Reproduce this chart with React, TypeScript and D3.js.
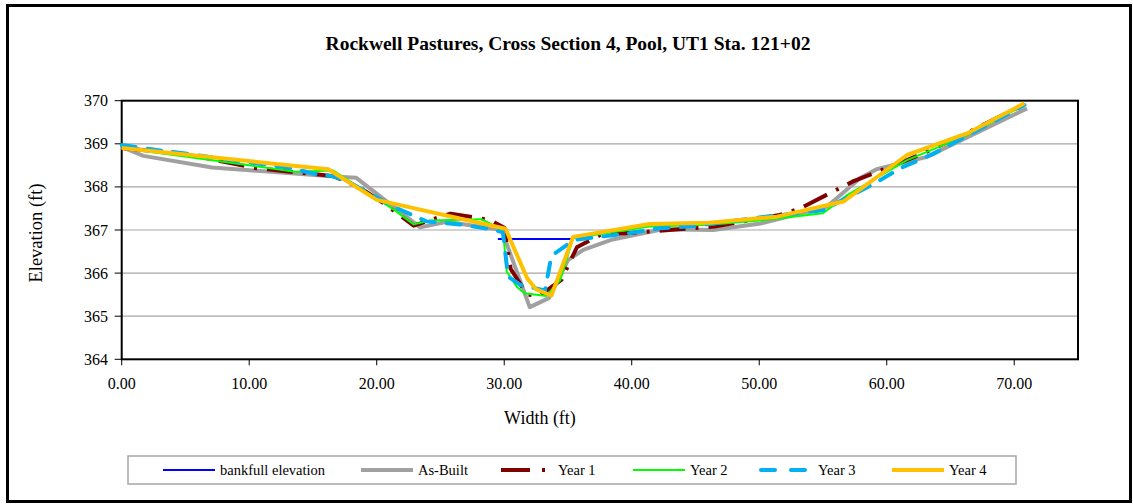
import React from "react";
import * as d3 from "d3";

type P = [number, number];

const title = "Rockwell Pastures, Cross Section 4, Pool, UT1 Sta. 121+02";
const xLabel = "Width (ft)";
const yLabel = "Elevation (ft)";
const xTicks = [0, 10, 20, 30, 40, 50, 60, 70];
const yTicks = [364, 365, 366, 367, 368, 369, 370];

const bankfull: P[] = [[29.5, 366.79], [35.4, 366.79]];

const asBuilt: P[] = [
  [0, 368.93], [1.7, 368.72], [7.1, 368.45], [16.2, 368.25], [18.4, 368.21],
  [23.4, 367.06], [25.5, 367.19], [29.8, 367.0], [32.0, 365.21], [33.5, 365.42],
  [35.0, 366.3], [36.2, 366.54], [38.5, 366.78], [42.5, 367.02], [46.4, 367.0],
  [50.1, 367.15], [55.3, 367.54], [57.9, 368.2], [59.2, 368.41], [62.1, 368.62],
  [63.1, 368.69], [71.0, 369.82],
];

const year1: P[] = [
  [0, 368.9], [4.4, 368.78], [6.4, 368.68], [10.4, 368.44], [16.6, 368.25],
  [18.7, 367.98], [20.5, 367.63], [22.9, 367.1], [24.4, 367.25], [25.8, 367.38],
  [28.9, 367.23], [30.0, 367.05], [30.5, 366.1], [31.8, 365.5], [32.8, 365.48],
  [34.5, 365.85], [35.7, 366.6], [37.5, 366.88], [46.5, 367.08], [51.6, 367.35],
  [53.2, 367.5], [57.3, 368.12], [61.4, 368.6], [63.0, 368.8], [66.3, 369.25],
  [70.8, 369.92],
];

const year2: P[] = [
  [0, 368.9], [10, 368.5], [13.6, 368.35], [16.6, 368.38], [21.4, 367.46],
  [22.9, 367.13], [24.2, 367.22], [28.2, 367.25], [29.9, 367.0], [30.2, 366.03],
  [31.0, 365.68], [31.6, 365.53], [33.3, 365.47], [34.4, 365.84], [35.4, 366.81],
  [41.4, 367.08], [46.1, 367.12], [50.0, 367.22], [55.0, 367.39], [56.9, 367.81],
  [61.6, 368.62], [66.3, 369.2], [70.8, 369.9],
];

const year3: P[] = [
  [0, 368.97], [2.6, 368.86], [5.4, 368.76], [7.9, 368.65], [10.2, 368.56],
  [13.0, 368.45], [15.2, 368.3], [16.5, 368.25], [17.5, 368.16], [21.4, 367.53],
  [23.9, 367.2], [26.5, 367.13], [28.7, 367.03], [29.9, 366.95], [30.3, 365.92],
  [31.3, 365.72], [33.2, 365.6], [33.7, 366.4], [35.5, 366.77], [39.9, 366.93],
  [42.2, 367.04], [44.8, 367.09], [50.3, 367.3], [55.0, 367.46], [59.1, 368.09],
  [61.1, 368.44], [63.6, 368.76], [70.8, 369.9],
];

const year4: P[] = [
  [0, 368.9], [16.2, 368.41], [20.0, 367.7], [30.1, 367.03], [31.8, 365.88],
  [32.5, 365.62], [33.7, 365.48], [35.4, 366.84], [41.4, 367.14], [46.1, 367.17],
  [51.4, 367.31], [56.6, 367.66], [61.6, 368.74], [66.3, 369.24], [70.8, 369.94],
];

const seriesNames = ["bankfull elevation", "As-Built", "Year 1", "Year 2", "Year 3", "Year 4"];

const styles = [
  { data: bankfull, color: "#0000FF", width: 2, dash: "" },
  { data: asBuilt, color: "#A0A0A0", width: 4, dash: "" },
  { data: year1, color: "#800000", width: 4, dash: "26,10,3,10" },
  { data: year2, color: "#00FF00", width: 2, dash: "" },
  { data: year3, color: "#00B0F0", width: 4, dash: "14,12" },
  { data: year4, color: "#FFC000", width: 4, dash: "" },
];

const legendX = [163, 361, 501, 633, 761, 892];

export default function App() {
  const W = 1133, H = 504;
  const left = 121.7, right = 1078, top = 100.7, bottom = 359.3;
  const x = d3.scaleLinear().domain([0, 75]).range([left, right]);
  const y = d3.scaleLinear().domain([364, 370]).range([bottom, top]);
  const line = d3.line<P>().x((d) => x(d[0])).y((d) => y(d[1]));
  const font = "'Liberation Serif', 'Times New Roman', serif";

  return (
    <svg width={W} height={H} style={{ position: "absolute", left: 0, top: 0, background: "#fff" }} fontFamily={font}>
      <rect x={0} y={0} width={W} height={H} fill="#fff" />
      <rect x={7.5} y={5.5} width={1123} height={496} fill="none" stroke="#000" strokeWidth={3} />
      <text x={568} y={50} textAnchor="middle" fontWeight="bold" fontSize={19.5}>{title}</text>

      {yTicks.map((t) => (
        <g key={"y" + t}>
          {t > 364 && t < 370 && (
            <line x1={left} x2={right} y1={y(t)} y2={y(t)} stroke="#A6A6A6" strokeWidth={1.2} />
          )}
          <line x1={left - 7} x2={left} y1={y(t)} y2={y(t)} stroke="#000" strokeWidth={1} />
          <text x={108} y={y(t) + 5.5} textAnchor="end" fontSize={16}>{t}</text>
        </g>
      ))}
      {xTicks.map((t) => (
        <g key={"x" + t}>
          <line x1={x(t)} x2={x(t)} y1={bottom} y2={bottom + 6} stroke="#000" strokeWidth={1} />
          <text x={x(t)} y={389} textAnchor="middle" fontSize={16}>{t.toFixed(2)}</text>
        </g>
      ))}
      <rect x={left} y={top} width={right - left} height={bottom - top} fill="none" stroke="#000" strokeWidth={2} />

      {styles.map((s, i) => (
        <path key={"s" + i} d={line(s.data) || ""} fill="none" stroke={s.color} strokeWidth={s.width}
          strokeDasharray={s.dash || undefined} strokeLinejoin="round"
          strokeLinecap={i === 4 ? "round" : "butt"} />
      ))}

      <text x={540} y={424} textAnchor="middle" fontSize={18}>{xLabel}</text>
      <text transform={`translate(42,233) rotate(-90)`} textAnchor="middle" fontSize={18.5}>{yLabel}</text>

      <rect x={128} y={456} width={888} height={28} fill="#fff" stroke="#A6A6A6" strokeWidth={1.5} />
      {styles.map((s, i) => (
        <g key={"l" + i}>
          <line x1={legendX[i]} x2={legendX[i] + 52} y1={470} y2={470} stroke={s.color} strokeWidth={s.width}
            strokeDasharray={i === 2 ? "29,12,3,12" : i === 4 ? "14,16" : undefined}
            strokeLinecap={i === 4 ? "round" : "butt"} />
          <text x={legendX[i] + 57} y={475} fontSize={14.5}>{seriesNames[i]}</text>
        </g>
      ))}
    </svg>
  );
}
